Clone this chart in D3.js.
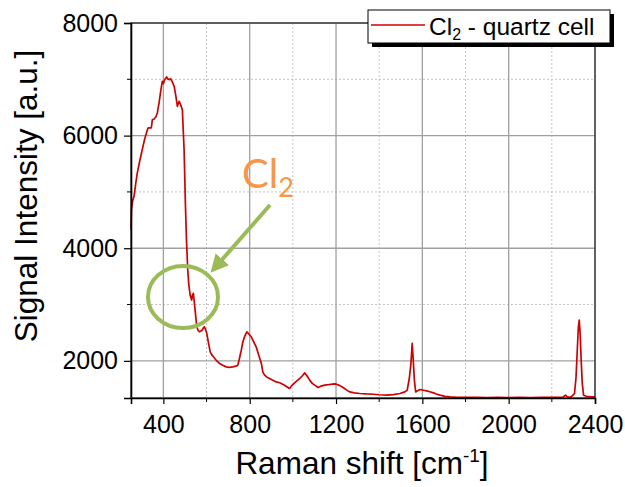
<!DOCTYPE html>
<html>
<head>
<meta charset="utf-8">
<script src="https://cdn.jsdelivr.net/npm/d3@7"></script>
<style>
  body { margin: 0; background: #fff; }
  svg { font-family: "Liberation Sans", Arial, sans-serif; }
</style>
</head>
<body>
<div id="chart"></div>
<script>
// Raman spectrum
const ramanShift = [250, 252, 258, 264, 272, 279, 290, 302, 314, 326, 330, 344, 349, 356, 365, 372, 380, 388, 395, 400,
  406, 415, 420, 426, 434, 442, 450, 458, 465, 473, 480, 488, 492, 496, 502, 507, 513, 518, 524, 531,
  535, 539, 543, 547, 551, 555, 561, 567, 574, 580, 586, 590, 595, 601, 609, 617, 624, 632, 645, 660,
  675, 691, 705, 722, 735, 745, 753, 761, 768, 776, 782, 787, 795, 807, 818, 830, 842, 854, 861, 869,
  880, 892, 905, 923, 939, 955, 970, 985, 995, 1008, 1020, 1032, 1045, 1055, 1066, 1078, 1090, 1101, 1117, 1130,
  1148, 1170, 1190, 1202, 1218, 1233, 1250, 1264, 1285, 1310, 1340, 1372, 1400, 1434, 1465, 1496, 1519, 1530, 1540, 1547,
  1553, 1558, 1563, 1569, 1578, 1589, 1605, 1620, 1635, 1651, 1665, 1682, 1705, 1728, 1760, 1806, 1850, 1900, 1950, 2000,
  2050, 2100, 2150, 2200, 2250, 2263, 2272, 2290, 2305, 2312, 2318, 2323, 2327, 2331, 2336, 2341, 2347, 2360, 2379, 2400];
const intensity = [4326, 4680, 4850, 4918, 5150, 5335, 5540, 5749, 5950, 6105, 6140, 6135, 6283, 6290, 6330, 6402, 6580, 6800, 6964, 6923,
  6990, 7043, 7010, 6995, 7007, 6950, 6875, 6700, 6520, 6609, 6550, 6461, 6100, 5749, 4800, 4148, 3614, 3350, 3169, 3080,
  3170, 3199, 3050, 2902, 2750, 2605, 2540, 2516, 2530, 2546, 2590, 2605, 2560, 2488, 2320, 2160, 2110, 2071, 2010, 1954,
  1920, 1893, 1885, 1893, 1905, 1923, 2050, 2190, 2330, 2427, 2480, 2516, 2480, 2427, 2340, 2249, 2100, 1954, 1800, 1746,
  1710, 1687, 1660, 1626, 1610, 1580, 1545, 1509, 1560, 1609, 1650, 1687, 1740, 1786, 1730, 1657, 1600, 1568, 1527, 1550,
  1568, 1580, 1590, 1585, 1560, 1527, 1480, 1448, 1430, 1420, 1412, 1407, 1398, 1390, 1400, 1420, 1448, 1480, 1700, 1950,
  2310, 2000, 1657, 1448, 1470, 1491, 1478, 1466, 1450, 1431, 1410, 1390, 1370, 1359, 1352, 1350, 1351, 1349, 1350, 1349,
  1350, 1349, 1350, 1351, 1352, 1390, 1358, 1360, 1420, 1700, 2200, 2600, 2724, 2500, 2000, 1600, 1390, 1370, 1363, 1360];

const xMajorTicks = [400, 800, 1200, 1600, 2000, 2400];
const xMinorTicks = [600, 1000, 1400, 1800, 2200];
const yMajorTicks = [2000, 4000, 6000, 8000];
const yMinorTicks = [3000, 5000, 7000];

const legendLabel = "Cl";
const legendSub = "2";
const legendRest = " - quartz cell";

const margin = { top: 23, right: 30, bottom: 89, left: 131 };
const width = 625 - margin.left - margin.right;
const height = 487 - margin.top - margin.bottom;

const svg = d3.select("#chart").append("svg")
  .attr("width", 625)
  .attr("height", 487);

const g = svg.append("g")
  .attr("transform", `translate(${margin.left},${margin.top})`);

const x = d3.scaleLinear().domain([250, 2400]).range([0, width]);
const y = d3.scaleLinear().domain([1340, 8000]).range([height, 0]);

// grid
g.selectAll(".vminor").data(xMinorTicks).enter().append("line")
  .attr("x1", d => x(d)).attr("x2", d => x(d))
  .attr("y1", 0).attr("y2", height)
  .attr("stroke", "#c4c4c4").attr("stroke-dasharray", "2,2");
g.selectAll(".hminor").data(yMinorTicks).enter().append("line")
  .attr("y1", d => y(d)).attr("y2", d => y(d))
  .attr("x1", 0).attr("x2", width)
  .attr("stroke", "#c4c4c4").attr("stroke-dasharray", "2,2");
g.selectAll(".vmajor").data(xMajorTicks).enter().append("line")
  .attr("x1", d => x(d)).attr("x2", d => x(d))
  .attr("y1", 0).attr("y2", height)
  .attr("stroke", "#a0a0a0").attr("stroke-width", 1.3);
g.selectAll(".hmajor").data(yMajorTicks).enter().append("line")
  .attr("y1", d => y(d)).attr("y2", d => y(d))
  .attr("x1", 0).attr("x2", width)
  .attr("stroke", "#a0a0a0").attr("stroke-width", 1.3);

// spectrum
const line = d3.line()
  .x((d, i) => x(ramanShift[i]))
  .y(d => y(d));

g.append("path")
  .datum(intensity)
  .attr("fill", "none")
  .attr("stroke", "#d00000")
  .attr("stroke-width", 1.7)
  .attr("stroke-linejoin", "round")
  .attr("d", line);

// frame
g.append("rect")
  .attr("width", width).attr("height", height)
  .attr("fill", "none").attr("stroke", "#222").attr("stroke-width", 1.2);

// axes
const xAxis = g.append("g")
  .attr("transform", `translate(0,${height})`)
  .call(d3.axisBottom(x).tickValues(xMajorTicks).tickSize(6).tickPadding(6).tickFormat(d3.format("d")));
xAxis.append("g").selectAll("line").data(xMinorTicks).enter().append("line")
  .attr("x1", d => x(d)).attr("x2", d => x(d)).attr("y1", 0).attr("y2", 4)
  .attr("stroke", "#000");

const yAxis = g.append("g")
  .call(d3.axisLeft(y).tickValues(yMajorTicks).tickSize(7).tickPadding(6).tickFormat(d3.format("d")));
yAxis.append("g").selectAll("line").data(yMinorTicks).enter().append("line")
  .attr("y1", d => y(d)).attr("y2", d => y(d)).attr("x1", 0).attr("x2", -4)
  .attr("stroke", "#000");

[xAxis, yAxis].forEach(a => {
  a.select(".domain").attr("stroke", "#000").attr("stroke-width", 1.6);
  a.selectAll(".tick line").attr("stroke", "#000").attr("stroke-width", 1.2);
  a.selectAll(".tick text").attr("font-size", 25).attr("fill", "#000")
    .attr("font-family", "'Liberation Sans', Arial, sans-serif");
});
xAxis.selectAll(".tick text").attr("dy", "0.92em");

// axis titles
const xTitle = svg.append("text")
  .attr("x", 362).attr("y", 474)
  .attr("text-anchor", "middle")
  .attr("font-size", 31.5);
xTitle.append("tspan").text("Raman shift [cm");
xTitle.append("tspan").attr("font-size", 19).attr("dy", -12).text("-1");
xTitle.append("tspan").attr("dy", 12).text("]");

svg.append("text")
  .attr("transform", "translate(37,196) rotate(-90)")
  .attr("text-anchor", "middle")
  .attr("font-size", 31.5)
  .text("Signal Intensity [a.u.]");

// legend
const legend = svg.append("g");
legend.append("rect")
  .attr("x", 372).attr("y", 14).attr("width", 242).attr("height", 33)
  .attr("fill", "#000");
legend.append("rect")
  .attr("x", 368).attr("y", 10).attr("width", 242).attr("height", 33)
  .attr("fill", "#fff").attr("stroke", "#000").attr("stroke-width", 1);
legend.append("line")
  .attr("x1", 371).attr("x2", 425).attr("y1", 25).attr("y2", 25)
  .attr("stroke", "#d00000").attr("stroke-width", 1.6);
const lt = legend.append("text").attr("x", 429).attr("y", 35).attr("font-size", 24.5);
lt.append("tspan").text(legendLabel);
lt.append("tspan").attr("font-size", 16).attr("dy", 5).text(legendSub);
lt.append("tspan").attr("dy", -5).text(legendRest);

// annotation
const ann = svg.append("text")
  .attr("x", 242).attr("y", 188)
  .attr("fill", "#f79646")
  .attr("font-family", "Lato, 'Open Sans', sans-serif")
  .attr("font-size", 40);
ann.append("tspan").text("Cl");
ann.append("tspan").attr("font-size", 27).attr("dy", 9).text("2");

const green = "#9bbb59";
svg.append("ellipse")
  .attr("cx", 183).attr("cy", 297).attr("rx", 35).attr("ry", 31)
  .attr("fill", "none").attr("stroke", green).attr("stroke-width", 4);

svg.append("defs").append("marker")
  .attr("id", "arrowhead")
  .attr("viewBox", "0 0 10 10")
  .attr("refX", 2).attr("refY", 5)
  .attr("markerWidth", 4.5).attr("markerHeight", 4.5)
  .attr("orient", "auto")
  .append("path").attr("d", "M0,0 L10,5 L0,10 z").attr("fill", green);

svg.append("line")
  .attr("x1", 270).attr("y1", 205).attr("x2", 220).attr("y2", 262)
  .attr("stroke", green).attr("stroke-width", 4)
  .attr("marker-end", "url(#arrowhead)");
</script>
</body>
</html>
